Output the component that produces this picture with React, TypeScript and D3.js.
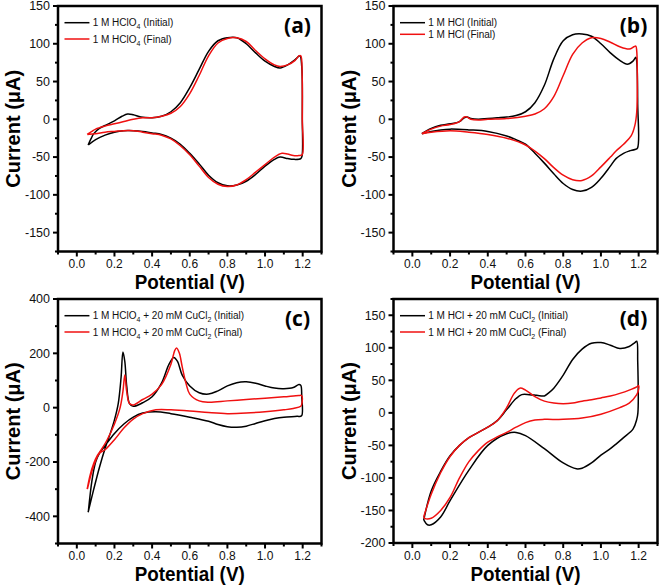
import React from "react";
import * as d3 from "d3";

type Pt = [number, number];

// Potential (V), Current (µA)
const aInitial: Pt[] = [[0.06,-34],[0.075,-26],[0.09,-19],[0.12,-12],[0.16,-7],[0.2,-2],[0.24,4],[0.27,7],[0.3,6],[0.34,3],[0.4,2],[0.45,4],[0.5,10],[0.55,22],[0.6,42],[0.65,66],[0.7,90],[0.75,104],[0.8,108],[0.85,108],[0.9,100],[0.95,88],[1.0,77],[1.05,70],[1.08,68],[1.12,72],[1.16,79],[1.185,84],[1.195,70],[1.198,0],[1.197,-48],[1.19,-52],[1.15,-53],[1.12,-52],[1.08,-50],[1.05,-53],[1.0,-62],[0.95,-73],[0.9,-82],[0.85,-87],[0.8,-88],[0.75,-84],[0.7,-74],[0.65,-59],[0.6,-45],[0.55,-33],[0.5,-25],[0.45,-20],[0.4,-18],[0.35,-16],[0.3,-15],[0.25,-15],[0.2,-17],[0.15,-21],[0.1,-27],[0.061,-34]];
const aFinal: Pt[] = [[0.055,-20],[0.08,-16],[0.1,-13],[0.15,-9],[0.2,-6],[0.25,-3],[0.3,0],[0.35,2],[0.4,2],[0.45,4],[0.5,8],[0.55,17],[0.6,34],[0.65,58],[0.7,84],[0.75,101],[0.8,107],[0.85,108],[0.9,103],[0.95,91],[1.0,80],[1.05,72],[1.08,70],[1.12,72],[1.16,78],[1.18,84],[1.19,84],[1.197,60],[1.198,0],[1.197,-47],[1.18,-48],[1.15,-48],[1.12,-46],[1.09,-45],[1.05,-50],[1.0,-60],[0.95,-70],[0.9,-80],[0.85,-87],[0.8,-89],[0.75,-86],[0.7,-77],[0.65,-62],[0.6,-47],[0.55,-35],[0.5,-26],[0.45,-21],[0.4,-19],[0.35,-17],[0.3,-15],[0.25,-15],[0.2,-16],[0.15,-17],[0.1,-19],[0.056,-20]];
const bInitial: Pt[] = [[0.05,-19],[0.1,-12],[0.15,-8],[0.2,-6],[0.25,-3],[0.275,2],[0.29,3],[0.31,1],[0.35,0],[0.4,1],[0.45,2],[0.5,3],[0.55,5],[0.6,10],[0.65,22],[0.7,45],[0.75,80],[0.8,104],[0.85,112],[0.9,113],[0.95,110],[1.0,100],[1.05,88],[1.1,78],[1.14,73],[1.17,77],[1.185,82],[1.19,76],[1.195,20],[1.194,-38],[1.18,-40],[1.15,-42],[1.12,-45],[1.08,-52],[1.05,-62],[1.0,-78],[0.95,-90],[0.9,-95],[0.85,-93],[0.8,-85],[0.75,-72],[0.7,-58],[0.65,-45],[0.6,-33],[0.55,-27],[0.5,-22],[0.4,-16],[0.3,-14],[0.2,-13],[0.15,-14],[0.1,-16],[0.051,-19]];
const bFinal: Pt[] = [[0.05,-19],[0.1,-13],[0.15,-9],[0.2,-7],[0.25,-3],[0.275,3],[0.29,3],[0.31,0],[0.35,-1],[0.4,0],[0.5,1],[0.6,4],[0.65,7],[0.7,14],[0.75,30],[0.8,58],[0.85,86],[0.9,101],[0.95,108],[1.0,107],[1.05,102],[1.1,96],[1.15,93],[1.175,96],[1.185,97],[1.19,90],[1.193,50],[1.19,10],[1.18,-8],[1.16,-22],[1.12,-33],[1.08,-42],[1.05,-50],[1.0,-63],[0.95,-75],[0.9,-81],[0.85,-80],[0.8,-74],[0.75,-64],[0.7,-52],[0.65,-42],[0.6,-34],[0.5,-25],[0.4,-20],[0.3,-17],[0.2,-15],[0.1,-17],[0.051,-19]];
const cInitial: Pt[] = [[0.06,-385],[0.09,-300],[0.12,-220],[0.15,-150],[0.18,-90],[0.2,-45],[0.22,15],[0.235,110],[0.245,205],[0.255,170],[0.265,80],[0.28,15],[0.3,5],[0.35,18],[0.4,40],[0.45,90],[0.49,160],[0.515,185],[0.535,170],[0.56,120],[0.6,80],[0.65,55],[0.7,50],[0.75,62],[0.8,80],[0.85,92],[0.9,95],[0.95,90],[1.0,80],[1.05,72],[1.1,70],[1.15,74],[1.18,85],[1.19,82],[1.195,40],[1.194,-30],[1.17,-32],[1.1,-35],[1.05,-40],[1.0,-48],[0.95,-58],[0.9,-68],[0.85,-72],[0.8,-70],[0.75,-62],[0.7,-50],[0.6,-35],[0.5,-22],[0.42,-15],[0.35,-20],[0.3,-35],[0.25,-60],[0.2,-95],[0.15,-140],[0.12,-168],[0.1,-200],[0.08,-270],[0.061,-385]];
const cFinal: Pt[] = [[0.055,-300],[0.07,-250],[0.09,-205],[0.11,-175],[0.13,-155],[0.16,-120],[0.2,-60],[0.23,0],[0.245,60],[0.255,120],[0.265,60],[0.28,15],[0.3,10],[0.35,30],[0.4,50],[0.45,85],[0.5,160],[0.52,210],[0.53,220],[0.545,200],[0.56,150],[0.58,90],[0.6,50],[0.65,25],[0.7,20],[0.8,25],[0.9,30],[1.0,35],[1.1,40],[1.18,45],[1.195,44],[1.197,20],[1.19,5],[1.15,-3],[1.1,-8],[1.0,-15],[0.9,-20],[0.8,-22],[0.7,-18],[0.6,-12],[0.5,-8],[0.42,-8],[0.35,-22],[0.3,-42],[0.25,-75],[0.2,-118],[0.15,-155],[0.12,-168],[0.1,-195],[0.08,-235],[0.056,-300]];
const dInitial: Pt[] = [[0.06,-165],[0.1,-120],[0.15,-90],[0.2,-66],[0.25,-50],[0.3,-38],[0.35,-30],[0.4,-22],[0.45,-12],[0.5,5],[0.55,22],[0.58,28],[0.62,28],[0.66,27],[0.7,26],[0.72,30],[0.75,38],[0.8,58],[0.85,82],[0.9,98],[0.95,107],[1.0,108],[1.05,104],[1.1,99],[1.15,102],[1.18,108],[1.19,110],[1.195,80],[1.196,0],[1.19,-10],[1.17,-25],[1.12,-38],[1.08,-48],[1.05,-55],[1.0,-65],[0.95,-77],[0.9,-85],[0.87,-86],[0.8,-77],[0.7,-55],[0.6,-35],[0.55,-30],[0.5,-32],[0.4,-50],[0.3,-88],[0.2,-135],[0.15,-160],[0.1,-172],[0.08,-172],[0.061,-165]];
const dFinal: Pt[] = [[0.06,-160],[0.1,-125],[0.15,-92],[0.2,-67],[0.25,-50],[0.3,-38],[0.35,-30],[0.4,-22],[0.45,-12],[0.5,8],[0.54,30],[0.57,38],[0.6,35],[0.65,25],[0.7,18],[0.75,15],[0.8,14],[0.85,15],[0.9,18],[0.95,20],[1.0,23],[1.05,26],[1.1,30],[1.15,35],[1.19,40],[1.2,42],[1.199,35],[1.19,28],[1.15,15],[1.1,8],[1.0,-2],[0.9,-8],[0.8,-10],[0.7,-10],[0.65,-11],[0.6,-15],[0.55,-22],[0.5,-30],[0.45,-37],[0.4,-45],[0.35,-58],[0.3,-75],[0.25,-100],[0.2,-130],[0.15,-150],[0.1,-162],[0.065,-162],[0.061,-160]];

const xTicks = [0.0, 0.2, 0.4, 0.6, 0.8, 1.0, 1.2];
const xMinor = [-0.1, 0.1, 0.3, 0.5, 0.7, 0.9, 1.1, 1.3];
const yTicksAB = [-150, -100, -50, 0, 50, 100, 150];
const yMinorAB = [-175, -125, -75, -25, 25, 75, 125];
const yTicksC = [-400, -200, 0, 200, 400];
const yMinorC = [-500, -300, -100, 100, 300];
const yTicksD = [-200, -150, -100, -50, 0, 50, 100, 150];
const yMinorD = [-175, -125, -75, -25, 25, 75, 125, 175];

const panelLabels = ["(a)", "(b)", "(c)", "(d)"];
const legendBase = [
  ["1 M HClO", "4", ""],
  ["1 M HCl", "", ""],
  ["1 M HClO", "4", " + 20 mM CuCl"],
  ["1 M HCl + 20 mM CuCl", "", ""],
];

const FONT = "'Liberation Sans', Arial, sans-serif";

type PanelProps = {
  x0: number; x1: number; y0: number; y1: number;
  yDomain: [number, number];
  yTicks: number[]; yMinor: number[];
  initial: Pt[]; final: Pt[];
  label: string;
  legend: (kind: string) => React.ReactNode;
  legendY2: number;
};

function Panel(p: PanelProps) {
  const x = d3.scaleLinear().domain([-0.1, 1.3]).range([p.x0, p.x1]);
  const y = d3.scaleLinear().domain(p.yDomain).range([p.y1, p.y0]);
  const line = d3.line<Pt>().x(d => x(d[0])).y(d => y(d[1])).curve(d3.curveCatmullRom.alpha(0.5));
  const cx = (p.x0 + p.x1) / 2;
  const cy = (p.y0 + p.y1) / 2;
  return (
    <g>
      <path d={line(p.initial) || ""} fill="none" stroke="#000" strokeWidth={1.5} strokeLinejoin="round" />
      <path d={line(p.final) || ""} fill="none" stroke="#f01010" strokeWidth={1.5} strokeLinejoin="round" />
      <rect x={p.x0} y={p.y0} width={p.x1 - p.x0} height={p.y1 - p.y0} fill="none" stroke="#000" strokeWidth={2.5} />
      {xTicks.map(t => (
        <g key={"xt" + t}>
          <line x1={x(t)} x2={x(t)} y1={p.y1} y2={p.y1 + 5} stroke="#000" strokeWidth={2} />
          <text x={x(t)} y={p.y1 + 16.5} textAnchor="middle" fontFamily={FONT} fontSize={12} fill="#111">{t.toFixed(1)}</text>
        </g>
      ))}
      {xMinor.map(t => (
        <line key={"xm" + t} x1={x(t)} x2={x(t)} y1={p.y1} y2={p.y1 + 3} stroke="#000" strokeWidth={2} />
      ))}
      {p.yTicks.map(t => (
        <g key={"yt" + t}>
          <line x1={p.x0 - 5} x2={p.x0} y1={y(t)} y2={y(t)} stroke="#000" strokeWidth={2} />
          <text x={p.x0 - 8} y={y(t) + 4.3} textAnchor="end" fontFamily={FONT} fontSize={12.5} fill="#111">{t}</text>
        </g>
      ))}
      {p.yMinor.map(t => (
        <line key={"ym" + t} x1={p.x0 - 3} x2={p.x0} y1={y(t)} y2={y(t)} stroke="#000" strokeWidth={2} />
      ))}
      <text x={cx} y={p.y1 + 37.5} textAnchor="middle" fontFamily={FONT} fontWeight="bold" fontSize={20.5} textLength={110} lengthAdjust="spacingAndGlyphs">Potential (V)</text>
      <text transform={`translate(${p.x0 - 38},${cy}) rotate(-90)`} textAnchor="middle" fontFamily={FONT} fontWeight="bold" fontSize={20.5} textLength={118} lengthAdjust="spacingAndGlyphs">Current (μA)</text>
      <text x={p.x1 - 24} y={p.y0 + 27} textAnchor="middle" fontFamily="'Open Sans', sans-serif" fontWeight="bold" fontSize={21}>{p.label}</text>
      <line x1={x(-0.0655)} x2={x(0.067)} y1={p.y0 + 16.7} y2={p.y0 + 16.7} stroke="#000" strokeWidth={1.5} />
      <line x1={x(-0.0655)} x2={x(0.067)} y1={p.legendY2} y2={p.legendY2} stroke="#f01010" strokeWidth={1.5} />
      <text x={x(0.084)} y={p.y0 + 20.3} fontFamily={FONT} fontSize={10} fill="#111">{p.legend("Initial")}</text>
      <text x={x(0.084)} y={p.legendY2 + 3.6} fontFamily={FONT} fontSize={10} fill="#111">{p.legend("Final")}</text>
    </g>
  );
}

function legendFor(i: number) {
  const [a, sub1, b] = legendBase[i];
  return (kind: string) => {
    if (i === 0) return (<>{a}<tspan fontSize={7} dy={3}>{sub1}</tspan><tspan dy={-3}>{` (${kind})`}</tspan></>);
    if (i === 1) return `${a} (${kind})`;
    if (i === 2) return (<>{a}<tspan fontSize={7} dy={3}>{sub1}</tspan><tspan dy={-3}>{b}</tspan><tspan fontSize={7} dy={3}>2</tspan><tspan dy={-3}>{` (${kind})`}</tspan></>);
    return (<>{a}<tspan fontSize={7} dy={3}>2</tspan><tspan dy={-3}>{` (${kind})`}</tspan></>);
  };
}

export default function App() {
  return (
    <svg width={661} height={586} style={{ position: "absolute", left: 0, top: 0, background: "#fff" }}>
      <Panel x0={58} x1={321.5} y0={6} y1={251.5} yDomain={[-175, 150]} yTicks={yTicksAB} yMinor={yMinorAB}
        initial={aInitial} final={aFinal} label={panelLabels[0]} legend={legendFor(0)} legendY2={39} />
      <Panel x0={393.5} x1={657.5} y0={6} y1={251.5} yDomain={[-175, 150]} yTicks={yTicksAB} yMinor={yMinorAB}
        initial={bInitial} final={bFinal} label={panelLabels[1]} legend={legendFor(1)} legendY2={34.3} />
      <Panel x0={58} x1={321.5} y0={299} y1={543.5} yDomain={[-500, 400]} yTicks={yTicksC} yMinor={yMinorC}
        initial={cInitial} final={cFinal} label={panelLabels[2]} legend={legendFor(2)} legendY2={332} />
      <Panel x0={393.5} x1={657.5} y0={299} y1={543} yDomain={[-200, 175]} yTicks={yTicksD} yMinor={yMinorD}
        initial={dInitial} final={dFinal} label={panelLabels[3]} legend={legendFor(3)} legendY2={332} />
    </svg>
  );
}
